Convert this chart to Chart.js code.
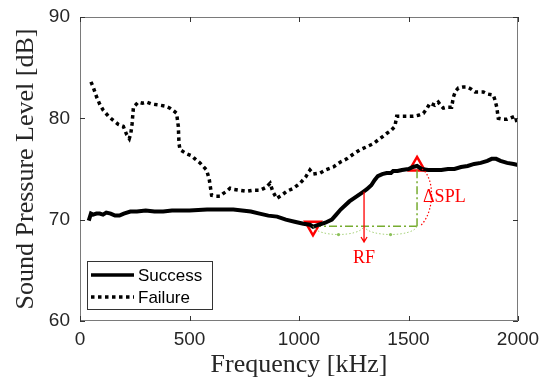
<!DOCTYPE html>
<html>
<head>
<meta charset="utf-8">
<script src="https://cdn.jsdelivr.net/npm/chart.js@4"></script>
<style>
  html, body { margin: 0; padding: 0; background: #fff; }
  #wrap { width: 547px; height: 381px; }
</style>
</head>
<body>
<div id="wrap"><canvas id="chart" width="547" height="381"></canvas></div>
<script>
// Success spectrum (frequency kHz, SPL dB)
const successFreq = [40, 50, 60, 75, 90, 105, 120, 140, 160, 180, 200, 230, 260, 300, 340, 380, 420, 460, 500, 540,
  580, 620, 660, 700, 740, 780, 820, 860, 900, 940, 980, 1020, 1050, 1064, 1090, 1120, 1150, 1170, 1190, 1210,
  1230, 1250, 1270, 1290, 1310, 1330, 1345, 1360, 1380, 1400, 1420, 1430, 1450, 1470, 1500, 1520, 1539, 1560,
  1590, 1620, 1650, 1680, 1710, 1740, 1770, 1800, 1830, 1860, 1880, 1900, 1920, 1950, 1980, 2000];
const successSpl = [69.9, 70.6, 70.5, 70.6, 70.6, 70.5, 70.7, 70.6, 70.4, 70.4, 70.6, 70.8, 70.8, 70.9, 70.8, 70.8, 70.9, 70.9, 70.9, 70.95,
  71.0, 71.0, 71.0, 71.0, 70.9, 70.8, 70.6, 70.4, 70.3, 70.0, 69.8, 69.6, 69.5, 69.3, 69.5, 69.7, 70.0, 70.5, 71.0, 71.4,
  71.8, 72.1, 72.4, 72.7, 73.0, 73.4, 73.9, 74.3, 74.5, 74.6, 74.6, 74.8, 74.8, 74.9, 75.0, 75.2, 75.3, 75.0,
  74.9, 74.9, 74.9, 75.0, 75.0, 75.2, 75.3, 75.5, 75.6, 75.8, 76.0, 76.0, 75.8, 75.6, 75.5, 75.4];

// Failure spectrum
const failureFreq = [50, 60, 76, 90, 106, 130, 152, 175, 198, 213, 225, 232, 238, 244, 266, 285, 304, 330, 365, 390,
  411, 430, 441, 449, 452, 457, 487, 510, 525, 548, 578, 590, 601, 620, 639, 655, 670, 685, 700, 730,
  761, 790, 822, 850, 868, 880, 898, 920, 944, 975, 1005, 1030, 1050, 1065, 1096, 1120, 1157, 1190, 1218, 1250,
  1279, 1310, 1339, 1370, 1400, 1420, 1438, 1446, 1470, 1500, 1522, 1545, 1568, 1585, 1598, 1620, 1636, 1650, 1659, 1680,
  1697, 1705, 1715, 1728, 1750, 1766, 1785, 1804, 1825, 1842, 1860, 1887, 1895, 1903, 1910, 1933, 1950, 1963, 1986, 1993, 1998];
const failureSpl = [83.6, 83.1, 82.1, 81.4, 80.8, 80.2, 79.8, 79.4, 79.2, 78.4, 78.0, 78.5, 79.5, 81.1, 81.6, 81.5, 81.6, 81.4, 81.3, 81.2,
  81.0, 80.7, 80.5, 79.2, 77.5, 76.9, 76.5, 76.3, 76.0, 75.6, 74.9, 74.0, 72.4, 72.3, 72.3, 72.6, 72.8, 73.1, 73.0, 72.9,
  72.8, 72.9, 72.9, 73.2, 73.6, 72.8, 72.1, 72.4, 72.8, 73.1, 73.6, 74.2, 74.9, 74.5, 74.6, 74.9, 75.2, 75.7, 76.0, 76.5,
  76.9, 77.2, 77.5, 78.0, 78.5, 78.8, 79.2, 80.2, 80.2, 80.2, 80.2, 80.3, 80.5, 81.0, 81.5, 81.3, 81.6, 81.2, 81.0, 81.1,
  81.1, 82.1, 82.7, 83.0, 83.1, 83.1, 82.9, 82.6, 82.6, 82.6, 82.4, 82.3, 81.8, 81.1, 80.0, 79.9, 79.9, 80.0, 80.2, 79.8, 79.3];

// annotation points
const minPoint = [1064, 69.35];   // resonance start (down triangle)
const maxPoint = [1539, 75.3];    // peak (up triangle)
const rfFreq = 1297;
const rfTop = 72.75;
const rfBottom = 67.8;

const xTicks = [0, 500, 1000, 1500, 2000];
const yTicks = [60, 70, 80, 90];

const toPts = (xs, ys) => xs.map((x, i) => ({ x: x, y: ys[i] }));
const green = '#77AC30';
const red = '#FF0000';

// box, inward ticks, dotted arcs, arrow, labels and legend
const extras = {
  id: 'extras',
  afterDatasetsDraw(chart) {
    const { ctx, chartArea: a, scales: { x, y } } = chart;
    ctx.save();

    // dotted arcs under the dash-dot line
    const y0 = y.getPixelForValue(minPoint[1]);
    const xs = [x.getPixelForValue(minPoint[0]), x.getPixelForValue(rfFreq), x.getPixelForValue(maxPoint[0])];
    ctx.strokeStyle = '#A6D17A';
    ctx.lineWidth = 1;
    ctx.setLineDash([1.5, 2]);
    for (let i = 0; i < 2; i++) {
      const x1 = xs[i], x2 = xs[i + 1];
      ctx.beginPath();
      ctx.moveTo(x1, y0);
      ctx.bezierCurveTo(x1 + 4, y0 + 11, x2 - 4, y0 + 11, x2, y0);
      ctx.stroke();
    }
    ctx.setLineDash([]);
    ctx.fillStyle = '#8CC05A';
    for (let i = 0; i < 2; i++) {
      ctx.beginPath();
      ctx.arc((xs[i] + xs[i + 1]) / 2, y0 + 8.3, 1.6, 0, Math.PI * 2);
      ctx.fill();
    }

    // red dotted brace for delta SPL
    const mx = x.getPixelForValue(maxPoint[0]);
    const my = y.getPixelForValue(maxPoint[1]);
    ctx.strokeStyle = red;
    ctx.lineWidth = 1.2;
    ctx.setLineDash([1.5, 2]);
    ctx.beginPath();
    ctx.moveTo(mx + 5, my + 3);
    ctx.bezierCurveTo(mx + 18, my + 12, mx + 18, y0 - 14, mx + 3, y0);
    ctx.stroke();
    ctx.setLineDash([]);

    // RF arrow
    const rx = x.getPixelForValue(rfFreq);
    const ry1 = y.getPixelForValue(rfTop);
    const ry2 = y.getPixelForValue(rfBottom);
    ctx.strokeStyle = red;
    ctx.lineWidth = 1.3;
    ctx.beginPath();
    ctx.moveTo(rx, ry1);
    ctx.lineTo(rx, ry2);
    ctx.moveTo(rx - 3, ry2 - 5);
    ctx.lineTo(rx, ry2);
    ctx.lineTo(rx + 3, ry2 - 5);
    ctx.stroke();

    ctx.fillStyle = red;
    ctx.font = '18px "Liberation Serif", "Times New Roman", serif';
    ctx.textAlign = 'center';
    ctx.textBaseline = 'middle';
    ctx.fillText('RF', rx, ry2 + 16);
    ctx.textAlign = 'left';
    ctx.fillText('\u0394SPL', mx + 6, (my + y0) / 2 + 1);

    // axes box and inward ticks
    ctx.strokeStyle = '#7a7a7a';
    ctx.lineWidth = 1;
    ctx.strokeRect(a.left + 0.5, a.top + 0.5, a.right - a.left - 1, a.bottom - a.top - 1);
    ctx.strokeStyle = '#333';
    ctx.beginPath();
    xTicks.forEach(v => {
      const px = Math.round(x.getPixelForValue(v)) + 0.5;
      ctx.moveTo(px, a.bottom); ctx.lineTo(px, a.bottom - 5);
      ctx.moveTo(px, a.top); ctx.lineTo(px, a.top + 5);
    });
    yTicks.forEach(v => {
      const py = Math.round(y.getPixelForValue(v)) + 0.5;
      ctx.moveTo(a.left, py); ctx.lineTo(a.left + 5, py);
      ctx.moveTo(a.right, py); ctx.lineTo(a.right - 5, py);
    });
    ctx.stroke();

    // legend
    const lx = a.left + 7, ly = a.bottom - 60, lw = 125, lh = 48;
    ctx.fillStyle = '#fff';
    ctx.fillRect(lx, ly, lw, lh);
    ctx.strokeStyle = '#333';
    ctx.lineWidth = 1;
    ctx.strokeRect(lx + 0.5, ly + 0.5, lw, lh);
    ctx.strokeStyle = '#000';
    ctx.lineWidth = 3.5;
    ctx.beginPath();
    ctx.moveTo(lx + 4, ly + 14); ctx.lineTo(lx + 47, ly + 14);
    ctx.stroke();
    ctx.setLineDash([3.5, 3.5]);
    ctx.beginPath();
    ctx.moveTo(lx + 4, ly + 36); ctx.lineTo(lx + 47, ly + 36);
    ctx.stroke();
    ctx.setLineDash([]);
    ctx.fillStyle = '#000';
    ctx.font = '17px "Liberation Sans", Arial, sans-serif';
    ctx.textAlign = 'left';
    ctx.fillText('Success', lx + 51, ly + 15);
    ctx.fillText('Failure', lx + 51, ly + 37);

    ctx.restore();
  }
};

new Chart(document.getElementById('chart'), {
  type: 'line',
  data: {
    datasets: [
      {
        label: 'Failure',
        data: toPts(failureFreq, failureSpl),
        borderColor: '#000',
        borderWidth: 3.5,
        borderDash: [3.5, 3.5],
        pointRadius: 0,
        fill: false,
        tension: 0
      },
      {
        label: 'Success',
        data: toPts(successFreq, successSpl),
        borderColor: '#000',
        borderWidth: 4,
        pointRadius: 0,
        fill: false,
        tension: 0
      },
      {
        label: 'dSPL-h',
        data: [{ x: minPoint[0], y: minPoint[1] }, { x: maxPoint[0], y: minPoint[1] }],
        borderColor: green,
        borderWidth: 1.5,
        borderDash: [8, 3, 2, 3],
        pointRadius: 0
      },
      {
        label: 'dSPL-v',
        data: [{ x: maxPoint[0], y: minPoint[1] }, { x: maxPoint[0], y: maxPoint[1] }],
        borderColor: green,
        borderWidth: 1.5,
        borderDash: [8, 3, 2, 3],
        pointRadius: 0
      },
      {
        label: 'min',
        data: [{ x: minPoint[0], y: minPoint[1] }],
        showLine: false,
        pointStyle: 'triangle',
        rotation: 180,
        pointRadius: 9,
        pointBorderWidth: 2.5,
        pointBorderColor: red,
        pointBackgroundColor: 'rgba(0,0,0,0)'
      },
      {
        label: 'max',
        data: [{ x: maxPoint[0], y: maxPoint[1] }],
        showLine: false,
        pointStyle: 'triangle',
        pointRadius: 9,
        pointBorderWidth: 2.5,
        pointBorderColor: red,
        pointBackgroundColor: 'rgba(0,0,0,0)'
      }
    ]
  },
  options: {
    responsive: false,
    animation: false,
    layout: { padding: { top: 17, right: 29, left: 0, bottom: 0 } },
    plugins: { legend: { display: false }, tooltip: { enabled: false } },
    scales: {
      x: {
        type: 'linear',
        min: 0, max: 2000,
        afterBuildTicks: s => { s.ticks = xTicks.map(v => ({ value: v })); },
        afterFit: s => { s.height = 60; s.paddingLeft = 0; s.paddingRight = 0; },
        grid: { display: false, drawTicks: false },
        border: { display: false },
        ticks: {
          padding: 7,
          color: '#262626',
          callback: v => String(v),
          font: { family: '"Liberation Sans", Arial, sans-serif', size: 19 }
        },
        title: {
          display: true,
          text: 'Frequency [kHz]',
          color: '#262626',
          padding: { top: 0, bottom: 0 },
          font: { family: '"Liberation Serif", "Times New Roman", serif', size: 26 }
        }
      },
      y: {
        min: 60, max: 90,
        afterBuildTicks: s => { s.ticks = yTicks.map(v => ({ value: v })); },
        afterFit: s => { s.width = 80; s.paddingTop = 0; s.paddingBottom = 0; },
        grid: { display: false, drawTicks: false },
        border: { display: false },
        ticks: {
          padding: 10,
          color: '#262626',
          callback: v => String(v),
          font: { family: '"Liberation Sans", Arial, sans-serif', size: 19 }
        },
        title: {
          display: true,
          text: 'Sound Pressure Level [dB]',
          color: '#262626',
          padding: { top: 11, bottom: 0 },
          font: { family: '"Liberation Serif", "Times New Roman", serif', size: 26 }
        }
      }
    }
  },
  plugins: [extras]
});
</script>
</body>
</html>
